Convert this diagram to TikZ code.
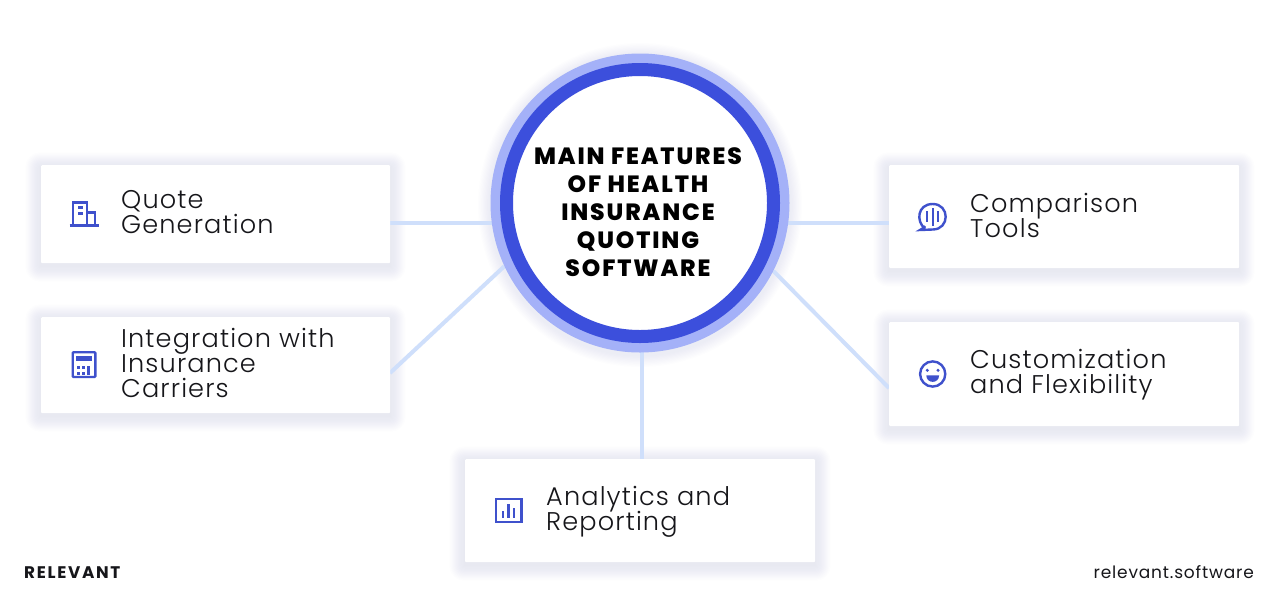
\documentclass[tikz,border=0pt]{standalone}
\usepackage{fontspec}
\setmainfont{Poppins}
\newfontfamily\bodyf[LetterSpace=4.4]{Poppins Light}
\newfontfamily\headf[LetterSpace=8]{Poppins ExtraBold}
\newfontfamily\brandf[LetterSpace=10]{Poppins Bold}
\newfontfamily\urlf[LetterSpace=4.8]{Poppins}
\newcommand{\tightlines}{\lineskiplimit=-100pt\relax}
\definecolor{ringout}{HTML}{A4B1F8}
\definecolor{ringin}{HTML}{3C4FDC}
\definecolor{linkc}{HTML}{CFDFFB}
\definecolor{iconc}{HTML}{3F51CC}
\definecolor{shadowc}{HTML}{6E7096}
\definecolor{inkc}{HTML}{16161A}
\pgfdeclarelayer{bg}
\pgfsetlayers{bg,main}
\tikzset{
  cardbox/.style={fill=white,rounded corners=1pt,anchor=north west,inner sep=0pt},
  bodytext/.style={anchor=base west,align=left,inner sep=0pt,text=inkc,font=\bodyf\fontsize{25.6}{25}\selectfont\tightlines},
  link/.style={draw=linkc,line width=4pt},
  iconline/.style={draw=iconc,line width=2.3pt,fill=none},
}
\newcommand{\cardat}[5]{% name x y w h
  \begin{pgfonlayer}{bg}
  \foreach \s in {1,...,14}{
    \fill[shadowc,opacity=0.006,rounded corners=\s pt]
      ({#2-1.1*\s},{#3+3-1.1*\s}) rectangle ({#2+#4+1.1*\s},{#3+#5+3+1.1*\s});
  }
  \end{pgfonlayer}
  \node[cardbox,minimum width=#4pt,minimum height=#5pt] (#1) at (#2,#3) {};
}
\begin{document}
\begin{tikzpicture}[x=1pt,y=-1pt]
\useasboundingbox (0,0) rectangle (1280,598);
\begin{pgfonlayer}{bg}
\fill[white] (0,0) rectangle (1280,598);
\end{pgfonlayer}
% cards
\cardat{qcard}{41}{165}{349}{98}
\cardat{icard}{41}{317}{349}{96}
\cardat{ccard}{889}{165}{350}{103}
\cardat{fcard}{889}{322}{350}{104}
\cardat{acard}{465}{459}{350}{103}
% hub
\begin{pgfonlayer}{bg}
\foreach \s in {1,...,10}{
  \fill[shadowc,opacity=0.007] (640,205) circle ({150+1.2*\s});
}
\end{pgfonlayer}
\node[circle,fill=ringout,minimum size=299pt,inner sep=0pt] (hub) at (640,203) {};
\node[circle,draw=ringin,line width=13pt,fill=white,minimum size=267pt,inner sep=0pt] (ring) at (640,203) {};
\node[align=center,inner sep=0pt,text=black,font=\headf\fontsize{23.5}{28}\selectfont\tightlines] (title) at (638,212) {MAIN FEATURES\\OF HEALTH\\INSURANCE\\QUOTING\\SOFTWARE};
% connectors
\coordinate (qend) at (390,223);
\coordinate (iend) at (390,373);
\coordinate (cend) at (889,223);
\coordinate (fend) at (889,388);
\coordinate (aend) at (642,459);
\begin{pgfonlayer}{bg}
\draw[link] (qend) -- (hub.center |- qend);
\draw[link] (iend) -- (hub.205);
\draw[link] (cend) -- (hub.center |- cend);
\draw[link] (fend) -- (hub.-27.4);
\draw[link] (aend) -- (aend |- hub.center);
\end{pgfonlayer}
% texts
\node[bodytext] (qtext) at (121,233) {Quote\\Generation};
\node[bodytext] (itext) at (121,397) {Integration with\\Insurance\\Carriers};
\node[bodytext] (ctext) at (970,237) {Comparison\\Tools};
\node[bodytext] (ftext) at (970,393) {Customization\\and Flexibility};
\node[bodytext] (atext) at (546,530) {Analytics and\\Reporting};
\node[anchor=base west,inner sep=0pt,text=inkc,font=\brandf\fontsize{16.8}{16.8}\selectfont] (brand) at (24,578) {RELEVANT};
\node[anchor=base east,inner sep=0pt,text=inkc,font=\urlf\fontsize{17}{17}\selectfont] (url) at (1254,578) {relevant.software};
% icon: building
\draw[iconline] (69.5,225.5) -- (99,225.5);
\draw[iconline] (73,225) -- (73,202.5) -- (87,202.5) -- (87,225);
\draw[iconline] (87,212.5) -- (95,212.5) -- (95,225);
\draw[iconline] (78,207.5) -- (82.5,207.5) (78,213.5) -- (82.5,213.5);
% icon: calculator
\draw[iconline,line width=2.4pt,rounded corners=1pt] (72.7,352.2) rectangle (95.3,377);
\fill[iconc] (76,355.5) rectangle (92,361);
\foreach \dx/\dy in {77/366,82/366,77/372,82/372,87/366}{\fill[iconc] (\dx,\dy) rectangle +(2.6,2.6);}
\fill[iconc] (87,366) rectangle (89.6,374.6);
% icon: speech bubble
\draw[iconline,line width=2.4pt] (925,228.5) .. controls (916,222) and (917,204) .. (932.7,204) .. controls (950,204) and (950,229.5) .. (932.7,229.5) -- (920,230) .. controls (922,229) and (923.5,228) .. (925,226);
\fill[iconc] (926,211) rectangle (928.2,222);
\fill[iconc] (931.6,208) rectangle (933.8,226);
\fill[iconc] (937.2,211) rectangle (939.4,222);
% icon: smiley
\draw[iconline,line width=2.4pt] (932.7,374) circle (12.6);
\fill[iconc] (927.3,370.3) circle (1.7) (938,370.3) circle (1.7);
\fill[iconc] (926.3,375.4) -- (939.1,375.4) .. controls (939,384) and (926.4,384) .. (926.3,375.4) -- cycle;
% icon: chart
\draw[iconline,line width=2.2pt] (495.8,499) rectangle (521.4,522);
\fill[iconc] (501.6,511) rectangle (504,518);
\fill[iconc] (507.2,503.5) rectangle (509.6,518);
\fill[iconc] (513,507.5) rectangle (515.4,518);
\end{tikzpicture}
\end{document}
